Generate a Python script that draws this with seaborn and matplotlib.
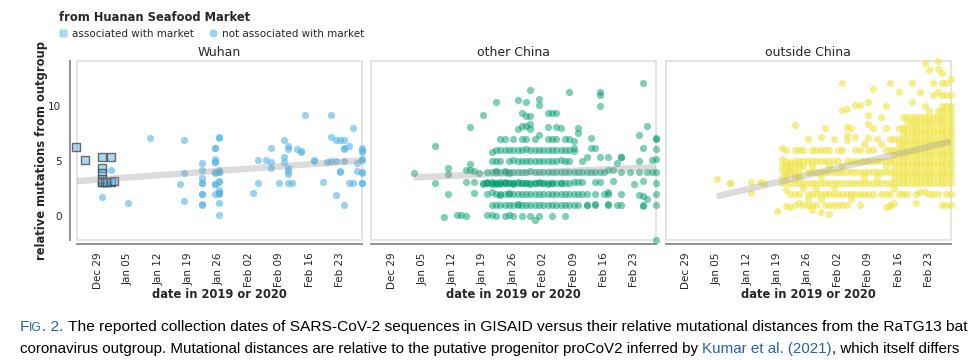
import numpy as np
import pandas as pd
import matplotlib
matplotlib.use("Agg")
import matplotlib.pyplot as plt
import seaborn as sns
from matplotlib.patches import Rectangle
from matplotlib.lines import Line2D
from matplotlib import font_manager

# ---------------- data (x = days since 2019-12-29) ----------------
tick_days = [0, 7, 14, 21, 28, 35, 42, 49, 56]
tick_labels = ["Dec 29", "Jan 05", "Jan 12", "Jan 19", "Jan 26",
               "Feb 02", "Feb 09", "Feb 16", "Feb 23"]
y_ticks = [0, 5, 10]
panels = ["Wuhan", "other China", "outside China"]
panel_colors = ["#56B4E9", "#009E73", "#F0E442"]

# Wuhan, associated with market (squares)
wuhan_market_day = [-5, -3, 1, 3, 1, 1, 1, 1, 1, 1.6, 2.2, 3, 3.8]
wuhan_market_val = [6.25, 5.1, 5.3, 5.35, 4.3, 3.85, 3.35, 3.1, 3.05, 3.05, 3.05, 3.05, 3.2]

# Wuhan, not associated with market
wuhan_other = {
    1: [1.73], 3: [4.2], 7: [1.15], 12: [7.03], 19: [2.85],
    20: [6.9, 3.85, 1.34],
    24: [4.79, 4.2, 3.43, 3.0, 2.95, 2.0, 1.95, 1.04, 1.0],
    27: [6.2, 6.15, 5.2, 4.9, 4.85, 3.95, 3.9, 2.9, 2.85, 2.0],
    28: [7.15, 7.1, 4.2, 4.0, 3.95, 3.15, 3.1, 2.3, 2.1, 2.05, 2.0, 1.2, 0.1],
    36: [2.03], 37: [5.1, 2.97], 39: [5.1], 40: [6.2, 4.85, 4.3], 42: [3.0],
    43: [6.9, 5.3, 4.85], 44: [6.3, 6.05, 4.3, 4.05, 3.75, 2.97], 45: [2.97],
    46: [6.1], 47: [5.85, 5.8], 48: [9.18], 50: [5.05, 5.0], 52: [3.09],
    53: [4.85], 54: [9.18, 7.18, 4.95], 55: [6.9, 4.95, 1.9],
    56: [6.9, 4.05, 3.95], 57: [6.85, 6.2, 6.05, 4.95, 1.0], 58: [6.35, 2.95],
    59: [8.0, 3.0], 60: [4.8, 4.05],
    61: [6.2, 5.95, 5.75, 5.2, 5.05, 4.0, 3.9, 3.0, 2.95],
}

# other China
other_china = {
    5: [3.9], 10: [6.3, 3.0], 12: [-0.1], 13: [4.3, 3.8, 2.0], 15: [0.05],
    16: [0.1], 17: [0.0, 4.2, 3.1], 18: [8.1, 4.7, 4.2], 19: [4.1, 3.1, 2.1],
    20: [3.9], 21: [9.2, 3.0, 2.9],
    22: [0.05, 2.95, 3.0, 3.1, 4.0, 2.0],
    23: [0.1, 5.8, 5.0, 4.0, 3.1, 3.0, 2.9, 2.2, 1.0],
    24: [10.3, 6.0, 5.0, 4.0, 4.1, 3.0, 3.0, 2.9, 2.0, 1.0, 0.0],
    25: [7.0, 6.0, 5.0, 4.0, 3.1, 3.0, 2.9, 2.0, 1.9, 1.0],
    26: [7.0, 6.0, 4.1, 4.0, 3.0, 3.0, 3.1, 2.0, 1.0, 0.0],
    27: [6.0, 5.0, 4.0, 3.9, 3.0, 3.0, 2.0, 2.1, 1.0, 0.1],
    28: [7.0, 6.0, 5.1, 4.0, 3.0, 3.0, 2.9, 2.0, 1.0, 0.0],
    29: [10.5, 7.9, 6.0, 5.0, 4.0, 3.1, 3.0, 2.0, 1.0, 1.1],
    30: [9.3, 8.2, 7.0, 6.0, 5.0, 4.0, 3.0, 3.0, 2.0, 1.0, 0.0],
    31: [10.3, 9.1, 8.2, 7.0, 6.1, 5.0, 4.0, 3.0, 3.0, 2.0, 1.0],
    32: [11.4, 9.1, 8.3, 7.9, 6.0, 5.0, 4.1, 3.0, 2.9, 2.0, 1.0, 0.0],
    33: [-0.4, 7.0, 6.0, 5.0, 4.0, 3.0, 3.0, 2.0, 1.0],
    34: [10.6, 10.1, 7.3, 6.0, 5.0, 4.0, 3.0, 3.1, 2.0, 1.0, 0.0],
    35: [6.0, 5.0, 4.0, 3.0, 3.0, 2.0, 1.0],
    36: [9.3, 8.1, 7.0, 6.0, 5.0, 4.0, 3.0, 2.9, 2.0, 1.0],
    37: [9.3, 7.0, 6.0, 5.0, 4.0, 3.0, 3.0, 2.0, 1.0, 0.0],
    38: [9.3, 8.1, 7.0, 6.0, 5.0, 4.0, 3.0, 2.0, 1.0],
    39: [8.0, 6.0, 5.1, 4.0, 3.0, 3.0, 2.0, 1.0],
    40: [0.0, 7.0, 6.0, 5.0, 4.0, 3.0, 2.0, 1.0],
    41: [11.2, 7.0, 6.0, 5.0, 4.0, 3.0, 2.0, 1.0],
    42: [6.8, 6.2, 5.9, 4.0, 3.1, 2.0, 1.0],
    43: [8.0, 7.5, 4.0, 3.1, 2.0, 1.0],
    44: [5.0, 4.0, 3.1, 2.0], 45: [5.35, 4.0, 2.0, 1.0, 1.0],
    46: [7.1, 6.2, 4.0], 47: [6.2, 4.0, 3.1, 2.0, 1.0, 1.1],
    48: [11.2, 11.0, 10.0, 5.3, 4.0, 3.1], 49: [4.0, 2.0],
    50: [5.3, 4.2, 2.0, 2.2, 1.0, 1.1], 51: [4.2, 3.2], 52: [4.8, 1.0],
    53: [5.35, 5.3, 4.0, 2.0, 1.0], 55: [4.0], 56: [2.9],
    57: [7.3, 5.0, 4.0, 1.9], 58: [12.1, 6.2, 3.2, 1.8, 1.0, 0.9],
    59: [8.15, 4.0, 1.5], 60: [5.05, 4.0],
    61: [7.1, 7.0, 6.1, 5.2, 4.0, 3.0, 2.0, 1.0, -2.2],
}

# outside China
outside_china = {
    7: [3.35], 10: [2.95, 3.0], 15: [3.1, 2.1], 17: [3.05], 18: [2.95], 21: [0.4],
    22: [6.15, 5.2, 4.6, 4.2, 3.5, 3.0],
    23: [6.0, 5.0, 4.5, 4.0, 3.6, 3.0, 2.3, 0.9],
    24: [4.9, 4.5, 4.2, 4.0, 3.0, 2.0, 0.8],
    25: [8.25, 6.0, 5.0, 4.5, 4.0, 3.6, 3.0, 2.0, 1.0],
    26: [6.0, 5.0, 4.5, 4.0, 3.5, 3.0, 2.0, 1.2],
    27: [6.0, 5.0, 4.5, 3.0, 2.5, 1.0],
    28: [7.0, 5.0, 4.0, 3.0, 2.0, 1.5, 1.0],
    29: [6.0, 5.0, 4.5, 4.0, 3.0, 2.0, 1.0, 0.5],
    30: [6.0, 5.0, 4.0, 3.0, 2.5, 2.0, 1.0],
    31: [7.2, 6.0, 5.0, 4.0, 3.5, 3.0, 2.0, 1.5, 0.3],
    32: [8.0, 6.0, 5.0, 4.0, 3.0, 2.0, 1.0],
    33: [6.0, 5.0, 4.5, 4.0, 3.0, 2.0, 1.0, 0.2],
    34: [7.0, 5.0, 4.0, 3.0, 2.5, 2.0, 1.0],
    35: [6.0, 5.0, 4.0, 3.0, 2.0, 1.0],
    36: [12.1, 9.6, 6.0, 4.5, 4.0, 3.0, 2.0, 1.0],
    37: [9.7, 8.1, 7.3, 6.9, 5.0, 4.0, 3.0, 2.0, 1.0],
    38: [8.0, 5.0, 4.0, 3.0, 2.0, 1.5],
    39: [10.1, 7.2, 6.0, 5.0, 4.0, 3.0, 2.0],
    40: [10.1, 6.0, 5.0, 4.0, 3.0, 2.0, 1.0],
    41: [6.5, 5.0, 4.0, 3.5, 3.0, 2.0],
    42: [10.3, 9.2, 8.3, 7.1, 6.0, 5.0, 4.0, 3.0, 2.0],
    43: [11.5, 8.0, 6.0, 5.0, 4.0, 3.0, 2.0],
    44: [7.0, 5.0, 4.0, 3.5, 3.0],
    45: [9.0, 6.5, 5.0, 4.0, 3.0, 2.0],
    46: [10.0, 8.0, 6.0, 5.0, 4.5, 4.0, 3.0, 2.0, 0.8],
    47: [12.1, 7.0, 6.0, 5.0, 4.0, 3.0, 2.0, 1.0, 0.9],
    48: [7.0, 6.0, 5.5, 5.0, 4.5, 4.0, 3.5, 3.0, 2.5, 1.2],
    49: [11.2, 8.0, 7.0, 6.5, 6.0, 5.5, 5.0, 4.5, 4.0, 3.5, 3.0, 2.0],
    50: [9.0, 8.0, 7.5, 7.0, 6.5, 6.0, 5.5, 5.0, 4.5, 4.0, 3.5, 3.0, 2.0],
    51: [9.0, 8.5, 8.0, 7.5, 7.0, 6.5, 6.0, 5.5, 5.0, 4.5, 4.0, 3.5, 3.0, 2.0],
    52: [12.1, 10.3, 9.0, 8.5, 8.0, 7.5, 7.0, 6.5, 6.0, 5.5, 5.0, 4.5, 4.0, 3.5, 3.0],
    53: [9.0, 8.5, 8.0, 7.5, 7.0, 6.5, 6.0, 5.5, 5.0, 4.5, 4.0, 3.5, 3.0, 2.0, 1.2],
    54: [11.2, 9.0, 8.5, 8.0, 7.5, 7.0, 6.5, 6.0, 5.5, 5.0, 4.5, 4.0, 3.5, 3.0, 2.2],
    55: [13.9, 10.0, 9.0, 8.5, 8.0, 7.5, 7.0, 6.5, 6.0, 5.5, 5.0, 4.5, 4.0, 3.5, 3.0, 2.2],
    56: [13.2, 9.5, 9.0, 8.5, 8.0, 7.5, 7.0, 6.5, 6.0, 5.5, 5.0, 4.5, 4.0, 3.5, 3.0, 2.0],
    57: [12.1, 11.0, 9.0, 8.5, 8.0, 7.5, 7.0, 6.5, 6.0, 5.5, 5.0, 4.5, 4.0, 3.5, 3.0, 2.0],
    58: [14.1, 13.3, 11.2, 9.5, 9.0, 8.5, 8.0, 7.5, 7.0, 6.5, 6.0, 5.5, 5.0, 4.5, 4.0, 3.5, 3.0, 2.0],
    59: [13.0, 12.1, 11.0, 10.0, 9.5, 9.0, 8.5, 8.0, 7.5, 7.0, 6.5, 6.0, 5.5, 5.0, 4.5, 4.0, 3.5, 3.0, 1.0],
    60: [12.1, 11.0, 10.0, 9.5, 9.0, 8.5, 8.0, 7.5, 7.0, 6.5, 6.0, 5.5, 5.0, 4.5, 4.0, 3.5, 3.0, 2.0, 1.0],
    61: [12.4, 11.0, 10.0, 9.5, 9.0, 8.5, 8.0, 7.5, 7.0, 6.5, 6.0, 5.5, 5.0, 4.5, 4.0, 3.5, 3.0, 2.0, 1.0],
}

caption_line1 = [("F", "#2563b0", 1.0), ("IG", "#2563b0", 0.78), (". 2.", "#2563b0", 1.0),
                 ("The reported collection dates of SARS-CoV-2 sequences in GISAID versus their "
                  "relative mutational distances from the RaTG13 bat", "black", 1.0)]
caption_gaps1 = [0, 0, 0, 1]
caption_line2 = [("coronavirus outgroup. Mutational distances are relative to the putative progenitor "
                  "proCoV2 inferred by", "black", 1.0),
                 ("Kumar et al. (2021)", "#2563b0", 1.0),
                 (", which itself differs", "black", 1.0)]
caption_gaps2 = [0, 1, 0]


def to_frame(d):
    rows = [(day, v) for day, vals in d.items() for v in vals]
    return pd.DataFrame(rows, columns=["day", "value"])


df_market = pd.DataFrame({"day": wuhan_market_day, "value": wuhan_market_val})
df_wuhan = to_frame(wuhan_other)
df_other = to_frame(other_china)
df_outside = to_frame(outside_china)

# ---------------- figure ----------------
sns.set_style("white")
plt.rcParams["font.family"] = ["DejaVu Sans"]

W, H = 977, 360
fig = plt.figure(figsize=(W / 100, H / 100), dpi=100)


def rect(x0, x1, y0, y1):
    return [x0 / W, 1 - y1 / H, (x1 - x0) / W, (y1 - y0) / H]


axes = [fig.add_axes(rect(76.7, 361.7, 61, 240)),
        fig.add_axes(rect(371, 656, 61, 240)),
        fig.add_axes(rect(665.5, 950.5, 61, 240))]

frames = [pd.concat([df_market, df_wuhan]), df_other, df_outside]
points = [df_wuhan, df_other, df_outside]
alphas = [0.6, 0.5, 0.6]

for i, (ax, name, col) in enumerate(zip(axes, panels, panel_colors)):
    sns.scatterplot(data=points[i], x="day", y="value", ax=ax, color=col, alpha=alphas[i],
                    s=27, linewidth=0, legend=False, clip_on=False, zorder=2)
    if i == 0:
        rgb = matplotlib.colors.to_rgb(col)
        sns.scatterplot(data=df_market, x="day", y="value", ax=ax, marker="s", s=32,
                        color=(*rgb, 0.5), edgecolor=(0.25, 0.25, 0.25, 0.75),
                        linewidth=1.0, legend=False, clip_on=False, zorder=3)
    sns.regplot(data=frames[i], x="day", y="value", ax=ax, scatter=False, ci=None,
                color="#9a9a9a", truncate=True,
                line_kws=dict(lw=4.6, alpha=0.35, solid_capstyle="butt", zorder=4))

    ax.set_xlim(-4.85, 61.0)
    ax.set_ylim(-2.2, 14.06)
    ax.set_xticks(tick_days)
    ax.set_xticklabels(tick_labels)
    ax.set_ylabel("")
    ax.set_xlabel("date in 2019 or 2020", fontsize=8.3, fontweight="bold")
    ax.xaxis.set_label_coords(0.5, -0.307)
    ax.xaxis.label.set_va("center")
    ax.set_title(name, fontsize=9, pad=3.5)

    ax.add_patch(Rectangle((0, 0), 1, 1, transform=ax.transAxes, fill=False,
                           ec="#dddddd", lw=1.1, clip_on=False, zorder=0.5))
    ax.spines["top"].set_visible(False)
    ax.spines["right"].set_visible(False)
    ax.spines["bottom"].set_position(("outward", 3))
    ax.spines["bottom"].set_color("#888888")
    ax.spines["bottom"].set_linewidth(1.3)
    ax.tick_params(axis="x", length=4, width=0.8, color="#888888", labelsize=7.5,
                   labelrotation=90, pad=2)
    if i == 0:
        ax.set_yticks(y_ticks)
        ax.spines["left"].set_position(("outward", 5))
        ax.spines["left"].set_color("#888888")
        ax.spines["left"].set_linewidth(1.3)
        ax.tick_params(axis="y", length=4, width=0.8, color="#888888", labelsize=7.5, pad=2)
    else:
        ax.spines["left"].set_visible(False)
        ax.set_yticks([])
    ax.set_facecolor("none")

fig.text(42 / W, 1 - 150 / H, "relative mutations from outgroup", rotation=90,
         fontsize=8.3, fontweight="bold", ha="center", va="center")

# legend
blue = matplotlib.colors.to_rgb(panel_colors[0])
handles = [Line2D([0], [0], marker="s", ls="", markerfacecolor=(*blue, 0.5),
                  markeredgecolor="none", markersize=5.8),
           Line2D([0], [0], marker="o", ls="", markerfacecolor=(*blue, 0.6),
                  markeredgecolor="none", markersize=5.8)]
fig.legend(handles, ["associated with market", "not associated with market"],
           loc="upper left", bbox_to_anchor=(59 / W, 1 - 11 / H), frameon=False, ncol=2,
           title="from Huanan Seafood Market", alignment="left", fontsize=7.5,
           title_fontproperties={"weight": "bold", "size": 8.3},
           borderpad=0, borderaxespad=0, handlelength=0.8, handletextpad=0.45,
           columnspacing=1.4, labelspacing=0.45)


# caption
def pick_font(names):
    for n in names:
        try:
            font_manager.findfont(font_manager.FontProperties(family=n),
                                  fallback_to_default=False)
            return n
        except Exception:
            pass
    return "DejaVu Sans"


cap_font = pick_font(["Liberation Sans Narrow", "DejaVu Sans Condensed", "Liberation Sans"])
fig.canvas.draw()
renderer = fig.canvas.get_renderer()


def text_width(s, size):
    t = fig.text(0, 0, s, fontsize=size, family=cap_font)
    w = t.get_window_extent(renderer).width
    t.remove()
    return w


def draw_caption(pieces, gaps, x0, x1, ybase):
    base = 10.0
    # first pass: find a common scale so that the line spans x0..x1
    space = text_width("x x", base) - text_width("xx", base)
    total = sum(text_width(s, base * sc) for s, c, sc in pieces) + space * sum(gaps)
    k = (x1 - x0) / total
    # second pass: measure at the final size and place pieces one after another
    size = base * k
    space = text_width("x x", size) - text_width("xx", size)
    x = x0
    for (s, c, sc), g in zip(pieces, gaps):
        x += g * space
        t = fig.text(x / W, 1 - ybase / H, s, fontsize=size * sc, color=c,
                     family=cap_font, va="baseline", ha="left")
        x = t.get_window_extent(renderer).x1


draw_caption(caption_line1, caption_gaps1, 20, 968, 331)
draw_caption(caption_line2, caption_gaps2, 20, 968, 353)

fig.savefig("out.png", dpi=100)
